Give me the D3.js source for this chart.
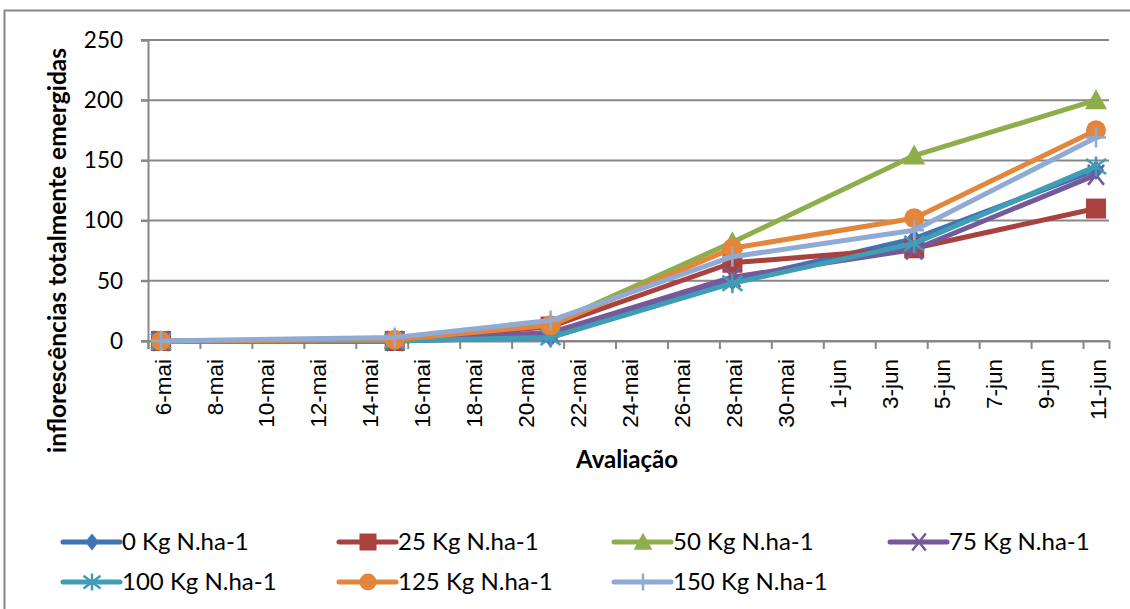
<!DOCTYPE html>
<html>
<head>
<meta charset="utf-8">
<script src="https://cdn.jsdelivr.net/npm/d3@7"></script>
<style>
  html, body { margin: 0; padding: 0; background: #fff; }
  svg { display: block; }
</style>
</head>
<body>
<svg id="chart" width="1130" height="609"></svg>
<script>
// Evaluation dates (2-day slots on a date axis)
const dates = ["2012-05-06", "2012-05-15", "2012-05-21", "2012-05-28", "2012-06-04", "2012-06-11"];

// Nitrogen doses
const seriesNames = ["0 Kg N.ha-1", "25 Kg N.ha-1", "50 Kg N.ha-1", "75 Kg N.ha-1",
                     "100 Kg N.ha-1", "125 Kg N.ha-1", "150 Kg N.ha-1"];

// Fully emerged inflorescences per dose
const n0   = [0, 0, 3, 50, 85, 142];
const n25  = [0, 0, 12, 65, 77, 110];
const n50  = [0, 1, 14, 82, 154, 200];
const n75  = [0, 0, 7, 53, 76, 138];
const n100 = [0, 0, 3, 48, 81, 145];
const n125 = [0, 1, 13, 77, 102, 175];
const n150 = [0, 3, 17, 70, 92, 169];

const yTicks = [0, 50, 100, 150, 200, 250];

const colors  = ["#4273b2", "#a9413e", "#8eae4c", "#76599b", "#3f9db6", "#e3853a", "#8faad4"];
const symbols = ["diamond", "square", "triangle", "x", "asterisk", "circle", "plus"];
const seriesValues = [n0, n25, n50, n75, n100, n125, n150];

const parse = d3.utcParse("%Y-%m-%d");
const ptBrMonth = ["jan","fev","mar","abr","mai","jun","jul","ago","set","out","nov","dez"];
const fmt = d => d.getUTCDate() + "-" + ptBrMonth[d.getUTCMonth()];

const svg = d3.select("#chart");
const plotL = 148, plotR = 1109, plotT = 40, plotB = 341;

// Outer chart frame
svg.append("rect").attr("x", 4.5).attr("y", 10.5).attr("width", 1140).attr("height", 620)
  .attr("fill", "none").attr("stroke", "#878787").attr("stroke-width", 2);

const start = parse("2012-05-06");
const end = parse("2012-06-12");
const x = d3.scaleUtc().domain([start, end]).range([plotL, plotR]);
const y = d3.scaleLinear().domain([0, 250]).range([plotB, plotT]);
const noon = d => d3.utcHour.offset(d, 12);

// Horizontal gridlines
svg.append("g").selectAll("line").data(yTicks).join("line")
  .attr("x1", plotL - 7).attr("x2", plotR)
  .attr("y1", d => y(d)).attr("y2", d => y(d))
  .attr("stroke", "#878787").attr("stroke-width", 2);

// Y axis
const yAxis = svg.append("g").attr("transform", `translate(${plotL},0)`)
  .call(d3.axisLeft(y).tickValues(yTicks).tickSize(7).tickPadding(18));
yAxis.select(".domain").attr("stroke", "#878787").attr("stroke-width", 2);
yAxis.selectAll(".tick line").attr("stroke", "#878787").attr("stroke-width", 2);
yAxis.selectAll("text").attr("font-family", "Lato, 'Open Sans', sans-serif")
  .attr("font-size", 22.5).attr("fill", "#000");

// X axis: tick marks at slot boundaries (every 2 days), labels at slot centres
const tickDates = d3.utcDay.range(start, end, 2);
const xAxis = svg.append("g").attr("transform", `translate(0,${plotB})`)
  .call(d3.axisBottom(x).tickValues(tickDates).tickSize(8).tickFormat(""));
xAxis.select(".domain").attr("stroke", "#878787").attr("stroke-width", 2);
xAxis.selectAll(".tick line").attr("stroke", "#878787").attr("stroke-width", 2);

svg.append("g").selectAll("text").data(tickDates).join("text")
  .attr("transform", d => `translate(${x(noon(d)) + 1.5},${plotB + 18}) rotate(-90)`)
  .attr("text-anchor", "end").attr("dy", "0.36em")
  .attr("font-family", "'Liberation Sans', Arial, sans-serif")
  .attr("font-size", 22.5).attr("fill", "#000")
  .text(fmt);

// Axis titles
svg.append("text").attr("x", 627).attr("y", 468)
  .attr("text-anchor", "middle").attr("font-family", "Lato, sans-serif")
  .attr("font-weight", "bold").attr("font-size", 24).text("Avaliação");
svg.append("text").attr("transform", `translate(66,48) rotate(-90)`)
  .attr("text-anchor", "end").attr("font-family", "Lato, sans-serif")
  .attr("font-weight", "bold").attr("font-size", 24.5).text("inflorescências totalmente emergidas");

// Marker drawing
function marker(g, type, color, s) {
  const h = s / 2;
  switch (type) {
    case "diamond":
      g.append("path").attr("d", `M0,${-h}L${h * 0.8},0L0,${h}L${-h * 0.8},0Z`).attr("fill", color); break;
    case "square":
      g.append("rect").attr("x", -h).attr("y", -h).attr("width", s).attr("height", s).attr("fill", color); break;
    case "triangle":
      g.append("path").attr("d", `M0,${-h * 1.1}L${h * 1.1},${h * 0.9}L${-h * 1.1},${h * 0.9}Z`).attr("fill", color); break;
    case "circle":
      g.append("circle").attr("r", h).attr("fill", color); break;
    case "x":
      g.append("path").attr("d", `M${-h * 0.8},${-h}L${h * 0.8},${h}M${-h * 0.8},${h}L${h * 0.8},${-h}`)
        .attr("stroke", color).attr("stroke-width", 2.5); break;
    case "asterisk":
      g.append("path").attr("d", `M${-h},${-h * 0.75}L${h},${h * 0.75}M${-h},${h * 0.75}L${h},${-h * 0.75}M0,${-h}L0,${h}`)
        .attr("stroke", color).attr("stroke-width", 2.5); break;
    case "plus":
      g.append("path").attr("d", `M${-h},0L${h},0M0,${-h}L0,${h}`)
        .attr("stroke", color).attr("stroke-width", 2.5); break;
  }
}

const line = d3.line().x(d => x(noon(parse(d.date)))).y(d => y(d.v));

seriesValues.forEach((vals, i) => {
  const pts = vals.map((v, j) => ({ date: dates[j], v }));
  const g = svg.append("g");
  g.append("path").datum(pts).attr("d", line)
    .attr("fill", "none").attr("stroke", colors[i]).attr("stroke-width", 5)
    .attr("stroke-linejoin", "round");
  pts.forEach(p => {
    const m = g.append("g").attr("transform", `translate(${x(noon(parse(p.date)))},${y(p.v)})`);
    marker(m, symbols[i], colors[i], 20);
  });
});

// Legend
const colX = [63, 339, 614, 890];
const rowY = [542, 582];
seriesNames.forEach((name, i) => {
  const lx = colX[i % 4], ly = rowY[Math.floor(i / 4)];
  const g = svg.append("g").attr("transform", `translate(${lx},${ly})`);
  g.append("line").attr("x1", 0).attr("x2", 57).attr("y1", 0).attr("y2", 0)
    .attr("stroke", colors[i]).attr("stroke-width", 5).attr("stroke-linecap", "round");
  const m = g.append("g").attr("transform", "translate(29,0)");
  marker(m, symbols[i], colors[i], 17);
  g.append("text").attr("x", 59).attr("y", 0).attr("dy", "0.35em")
    .attr("font-family", "Lato, sans-serif").attr("font-size", 24).attr("fill", "#000")
    .text(name);
});
</script>
</body>
</html>
